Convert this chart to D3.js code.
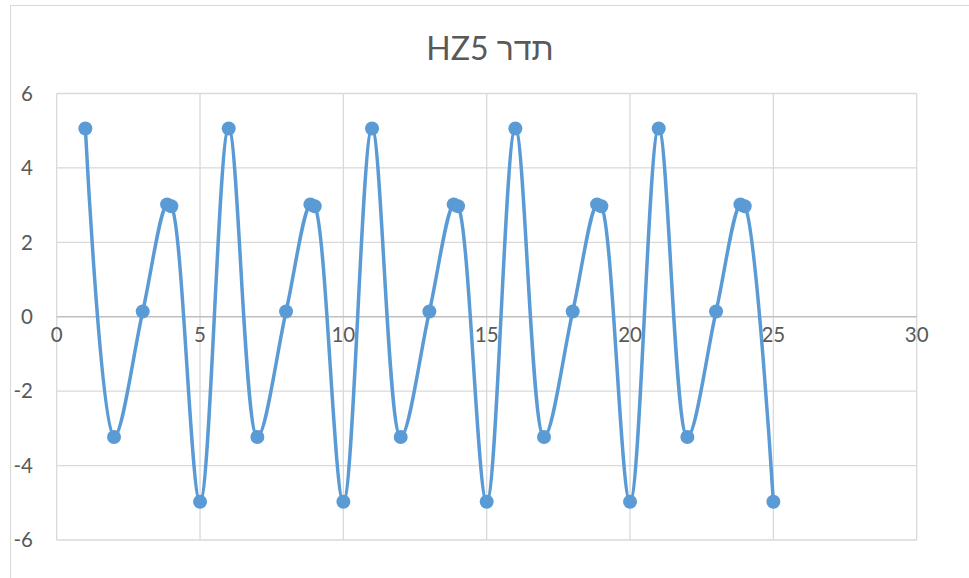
<!DOCTYPE html>
<html>
<head>
<meta charset="utf-8">
<script src="https://cdn.jsdelivr.net/npm/d3@7"></script>
<style>
  html, body { margin: 0; padding: 0; background: #ffffff; }
  svg { display: block; }
</style>
</head>
<body>
<svg id="chart" width="969" height="578"></svg>
<script>
// Sampled signal: time (x) and amplitude (y)
const xValues = [
  1, 2, 3, 3.85, 4, 5,
  6, 7, 8, 8.85, 9, 10,
  11, 12, 13, 13.85, 14, 15,
  16, 17, 18, 18.85, 19, 20,
  21, 22, 23, 23.85, 24, 25
];
const yValues = [
  5.06, -3.23, 0.14, 3.02, 2.97, -4.97,
  5.06, -3.23, 0.14, 3.02, 2.97, -4.97,
  5.06, -3.23, 0.14, 3.02, 2.97, -4.97,
  5.06, -3.23, 0.14, 3.02, 2.97, -4.97,
  5.06, -3.23, 0.14, 3.02, 2.97, -4.97
];
const xTicks = [0, 5, 10, 15, 20, 25, 30];
const yTicks = [-6, -4, -2, 0, 2, 4, 6];
const chartTitle = "HZ5 תדר";

const points = xValues.map((x, i) => ({ x, y: yValues[i] }));

const svg = d3.select("#chart");
const W = 969, H = 578;
const plot = { left: 56.7, right: 916.7, top: 93.5, bottom: 540 };
const textColor = "#595959";
const gridColor = "#d9d9d9";
const seriesColor = "#5b9bd5";
const fontFamily = "Lato, 'Liberation Sans', 'DejaVu Sans', sans-serif";

// chart area outline
svg.append("rect")
  .attr("x", 10.5).attr("y", 5.5)
  .attr("width", W + 20).attr("height", H + 20)
  .attr("fill", "#fff").attr("stroke", gridColor).attr("stroke-width", 1);

const x = d3.scaleLinear().domain([0, 30]).range([plot.left, plot.right]);
const y = d3.scaleLinear().domain([-6, 6]).range([plot.bottom, plot.top]);

// horizontal gridlines
svg.append("g")
  .selectAll("line").data(yTicks.filter(t => t !== 0)).join("line")
  .attr("x1", plot.left).attr("x2", plot.right)
  .attr("y1", d => y(d)).attr("y2", d => y(d))
  .attr("stroke", gridColor).attr("stroke-width", 1.3);

// vertical gridlines
svg.append("g")
  .selectAll("line").data(xTicks).join("line")
  .attr("x1", d => x(d)).attr("x2", d => x(d))
  .attr("y1", plot.top).attr("y2", plot.bottom)
  .attr("stroke", gridColor).attr("stroke-width", 1.3);

// horizontal axis at zero
svg.append("line")
  .attr("x1", plot.left).attr("x2", plot.right)
  .attr("y1", y(0)).attr("y2", y(0))
  .attr("stroke", "#bfbfbf").attr("stroke-width", 1.5);

// y tick labels
svg.append("g")
  .selectAll("text").data(yTicks).join("text")
  .attr("x", 33).attr("y", d => y(d))
  .attr("dy", "0.35em")
  .attr("text-anchor", "end")
  .attr("font-family", fontFamily).attr("font-size", 20.5)
  .attr("fill", textColor)
  .text(d => d);

// x tick labels, placed just under the zero line
svg.append("g")
  .selectAll("text").data(xTicks).join("text")
  .attr("x", d => x(d)).attr("y", y(0) + 32)
  .attr("dy", "-0.35em")
  .attr("text-anchor", "middle")
  .attr("font-family", fontFamily).attr("font-size", 20.5)
  .attr("fill", textColor)
  .text(d => d);

// smoothed series line
const line = d3.line()
  .x(d => x(d.x)).y(d => y(d.y))
  .curve(d3.curveCatmullRom.alpha(0.5));

svg.append("path")
  .datum(points)
  .attr("d", line)
  .attr("fill", "none")
  .attr("stroke", seriesColor)
  .attr("stroke-width", 3.5)
  .attr("stroke-linejoin", "round");

// markers
svg.append("g")
  .selectAll("circle").data(points).join("circle")
  .attr("cx", d => x(d.x)).attr("cy", d => y(d.y))
  .attr("r", 7)
  .attr("fill", seriesColor);

// title
svg.append("text")
  .attr("x", 490).attr("y", 60)
  .attr("text-anchor", "middle")
  .attr("direction", "ltr")
  .attr("font-family", fontFamily).attr("font-size", 32)
  .attr("fill", textColor)
  .text(chartTitle);
</script>
</body>
</html>
